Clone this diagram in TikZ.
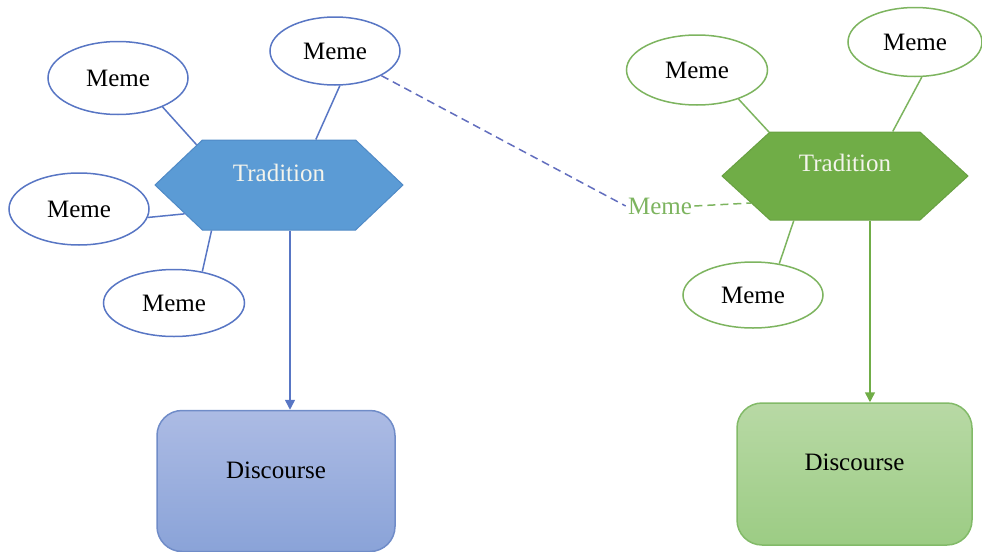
\documentclass[tikz,border=0pt]{standalone}
\usepackage{fontspec}
\setmainfont{Liberation Serif}
\usetikzlibrary{shapes.geometric,shapes.symbols,arrows.meta,calc}

\definecolor{hexblue}{RGB}{91,155,213}
\definecolor{hexbluedraw}{RGB}{80,138,198}
\definecolor{lineblue}{RGB}{88,118,196}
\definecolor{dashblue}{RGB}{98,110,190}
\definecolor{discbluetop}{RGB}{172,187,228}
\definecolor{discbluebot}{RGB}{138,163,216}
\definecolor{discbluedraw}{RGB}{112,140,200}
\definecolor{hexgreen}{RGB}{112,173,71}
\definecolor{hexgreendraw}{RGB}{104,160,66}
\definecolor{linegreen}{RGB}{125,180,95}
\definecolor{discgreentop}{RGB}{184,217,165}
\definecolor{discgreenbot}{RGB}{156,204,132}
\definecolor{discgreendraw}{RGB}{130,186,104}
\definecolor{hextext}{RGB}{244,244,236}

\tikzset{
  meme/.style={ellipse, draw, line width=0.75pt, fill=white, inner sep=0pt, text=black},
  memeblue/.style={meme, draw=lineblue},
  memegreen/.style={meme, draw=linegreen},
  hexagonnode/.style={signal, signal to=east and west, inner sep=0pt,
    minimum width=124pt, minimum height=45pt, line width=0.5pt},
  discbox/.style={rectangle, rounded corners=12.5pt, line width=0.75pt, inner sep=0pt},
  linkblue/.style={draw=lineblue, line width=0.75pt},
  linkgreen/.style={draw=linegreen, line width=0.75pt},
  dashlink/.style={line width=0.75pt, dash pattern=on 4pt off 2.5pt},
  arrowblue/.style={draw=lineblue, line width=0.75pt, -{Triangle[length=5pt,width=5pt]}},
  arrowgreen/.style={draw=hexgreen, line width=0.75pt, -{Triangle[length=5pt,width=5pt]}}
}

\begin{document}
\begin{tikzpicture}[x=0.5pt, y=-0.5pt, font=\fontsize{12.5}{15}\selectfont]
\useasboundingbox (0,0) rectangle (982,552);

% ---------- left group ----------
\node[hexagonnode, signal pointer angle=87, fill=hexblue, draw=hexbluedraw,
      label={[yshift=6pt, text=hextext]center:Tradition}] (hexL) at (279,185) {};

\node[memeblue, minimum width=70pt, minimum height=36.5pt] (mL1) at (118,78) {Meme};
\node[memeblue, minimum width=65pt, minimum height=34pt] (mL2) at (335,51) {Meme};
\node[memeblue, minimum width=70pt, minimum height=36pt] (mL3) at (79,209) {Meme};
\node[memeblue, minimum width=70.5pt, minimum height=33.5pt] (mL4) at (174,303) {Meme};

\draw[linkblue] (mL1.-33) -- (hexL.154);
\draw[linkblue] (mL2.-82) -- (hexL.51);
\draw[linkblue] (mL3.-7) -- (hexL.197);
\draw[linkblue] (mL4.48) -- (hexL.214);

\node[discbox, top color=discbluetop, bottom color=discbluebot, draw=discbluedraw,
      minimum width=119pt, minimum height=70.5pt,
      label={[yshift=5.5pt]center:Discourse}] (discL) at (276,481) {};

\coordinate (aL) at ($(hexL.south)+(11,0)$);
\draw[arrowblue] (aL) -- (aL |- discL.north);

% ---------- right group ----------
\node[hexagonnode, signal pointer angle=85, minimum width=123pt, minimum height=44pt,
      fill=hexgreen, draw=hexgreendraw,
      label={[yshift=6.5pt, text=hextext]center:Tradition}] (hexR) at (845,176) {};

\node[memegreen, minimum width=70.5pt, minimum height=35pt] (mR1) at (697,70) {Meme};
\node[memegreen, minimum width=67pt, minimum height=34.5pt] (mR2) at (915,42) {Meme};
\node[memegreen, minimum width=70pt, minimum height=33pt] (mR3) at (753,295) {Meme};

\draw[linkgreen] (mR1.-35) -- (hexR.150);
\draw[linkgreen] (mR2.-79) -- (hexR.43);
\draw[linkgreen] (mR3.50) -- (hexR.221);

\node[discbox, top color=discgreentop, bottom color=discgreenbot, draw=discgreendraw,
      minimum width=117.5pt, minimum height=71pt,
      label={[yshift=6pt]center:Discourse}] (discR) at (854.5,474) {};

\coordinate (aR) at ($(hexR.south)+(25,0)$);
\draw[arrowgreen] (aR) -- (aR |- discR.north);

% ---------- shared meme between the traditions ----------
\node[text=linegreen, inner sep=1pt] (gm) at (660,206) {Meme};
\draw[dashlink, draw=dashblue] (mL2.-28) -- (gm.west);
\draw[dashlink, draw=linegreen] (gm.east) -- (hexR.196);
\end{tikzpicture}
\end{document}
